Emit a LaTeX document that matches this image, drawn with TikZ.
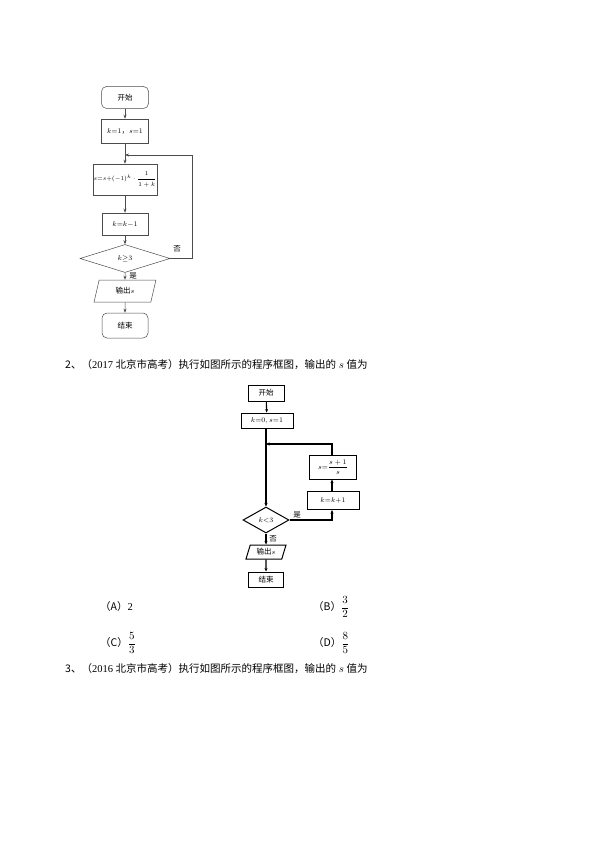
\documentclass[tikz,border=0pt]{standalone}
\usepackage{fontspec}
\usepackage{amsmath,amssymb}
\setmainfont{Liberation Serif}
\newfontfamily\cjk{Noto Sans CJK SC}
\usetikzlibrary{shapes.geometric,arrows.meta}

\tikzset{
  boxa/.style={draw=black!70, line width=0.5pt, inner sep=0pt, font=\fontsize{7.5}{8}\selectfont},
  roundbox/.style={boxa, rounded corners=5pt},
  conda/.style={boxa, diamond, aspect=3},
  ioa/.style={boxa, trapezium, trapezium left angle=75, trapezium right angle=105, trapezium stretches=true},
  linea/.style={draw=black!70, line width=0.5pt, -{Stealth[length=4pt,width=3pt]}},
  boxb/.style={draw=black, line width=1pt, inner sep=0pt, font=\fontsize{7.5}{8}\selectfont},
  condb/.style={boxb, diamond, aspect=1.8},
  iob/.style={boxb, trapezium, trapezium left angle=70, trapezium right angle=110, trapezium stretches=true},
  lineb/.style={draw=black, line width=1.1pt, -{Stealth[length=3.5pt,width=3pt]}},
  txt/.style={anchor=west, inner sep=0pt, font=\fontsize{10.5}{12}\selectfont}
}

\begin{document}
\begin{tikzpicture}[x=1pt,y=-1pt]
  \useasboundingbox[fill=white] (0,0) rectangle (595,842);

  % first chart
  \node[roundbox, minimum width=47pt, minimum height=22pt] (st1) at (125,97.5) {\cjk 开始};
  \node[boxa, minimum width=47pt, minimum height=24pt] (init1) at (125,131) {$k{=}1${\cjk ，}$s{=}1$};
  \node[boxa, minimum width=64pt, minimum height=31pt] (upd1) at (125,179.5)
    {\fontsize{6.3}{7}\selectfont$s{=}s{+}({-}1)^k\cdot\dfrac{1}{1+k}$};
  \node[boxa, minimum width=46pt, minimum height=22pt] (dec1) at (125,224) {$k{=}k{-}1$};
  \node[conda, minimum width=90pt, minimum height=28pt] (cond1) at (125,258.5) {$k{\geq}3$};
  \node[ioa, minimum width=62pt, minimum height=22pt] (out1) at (125,291) {{\cjk 输出}$s$};
  \node[roundbox, minimum width=46pt, minimum height=25pt] (end1) at (125,325.5) {\cjk 结束};
  \coordinate (j1) at (125,155);
  \coordinate (r1) at (192,258.5);

  \draw[linea] (st1) -- (init1);
  \draw[linea] (init1) -- (upd1);
  \draw[linea] (upd1) -- (dec1);
  \draw[linea] (dec1) -- (cond1);
  \draw[linea] (cond1) -- (out1);
  \draw[linea] (out1) -- (end1);
  \draw[linea] (cond1.east) -- (r1) |- (j1);
  \node[font=\fontsize{7.5}{8}\selectfont\cjk] (no1) at (177,249) {否};
  \node[font=\fontsize{7.5}{8}\selectfont\cjk] (yes1) at (133,276) {是};

  % problem 2
  \node[txt] (q2) at (65,365) {{\cjk 2、（}2017 {\cjk 北京市高考）执行如图所示的程序框图，输出的} $s$ {\cjk 值为}};

  % second chart
  \node[boxb, minimum width=36pt, minimum height=16pt] (st2) at (266,393) {\cjk 开始};
  \node[boxb, minimum width=52pt, minimum height=15pt] (init2) at (267,420.5) {$k{=}0,s{=}1$};
  \node[boxb, minimum width=47pt, minimum height=24pt] (upd2) at (333,467)
    {$s{=}\dfrac{s+1}{s}$};
  \node[boxb, minimum width=52pt, minimum height=18pt] (inc2) at (333,500.5) {$k{=}k{+}1$};
  \node[condb, minimum width=46pt, minimum height=26pt] (cond2) at (266,520) {$k{<}3$};
  \node[iob, minimum width=40pt, minimum height=14pt] (out2) at (266,552) {{\cjk 输出}$s$};
  \node[boxb, minimum width=35pt, minimum height=15pt] (end2) at (266,579.5) {\cjk 结束};
  \coordinate (j2) at (266,444);
  \coordinate (r2) at (332,520);
  \coordinate (t2) at (332,444);

  \draw[lineb] (st2) -- (init2);
  \draw[lineb] (init2.south -| j2) -- (cond2);
  \draw[lineb] (cond2.east) -- (r2) -- (inc2.south -| r2);
  \draw[lineb] (inc2.north -| r2) -- (upd2.south -| r2);
  \draw[lineb] (upd2.north -| t2) -- (t2) -- (j2);
  \draw[lineb] (cond2) -- (out2);
  \draw[lineb] (out2) -- (end2);
  \node[font=\fontsize{7.5}{8}\selectfont\cjk] (yes2) at (297,515) {是};
  \node[font=\fontsize{7.5}{8}\selectfont\cjk] (no2) at (273,539) {否};

  % choices
  \node[txt] (ca) at (100,607) {{\cjk （A）}2};
  \node[txt] (cb) at (313,607) {{\cjk （B）}$\dfrac{3}{2}$};
  \node[txt] (cc) at (100,643) {{\cjk （C）}$\dfrac{5}{3}$};
  \node[txt] (cd) at (313,643) {{\cjk （D）}$\dfrac{8}{5}$};

  % problem 3
  \node[txt] (q3) at (65,669) {{\cjk 3、（}2016 {\cjk 北京市高考）执行如图所示的程序框图，输出的} $s$ {\cjk 值为}};
\end{tikzpicture}
\end{document}
